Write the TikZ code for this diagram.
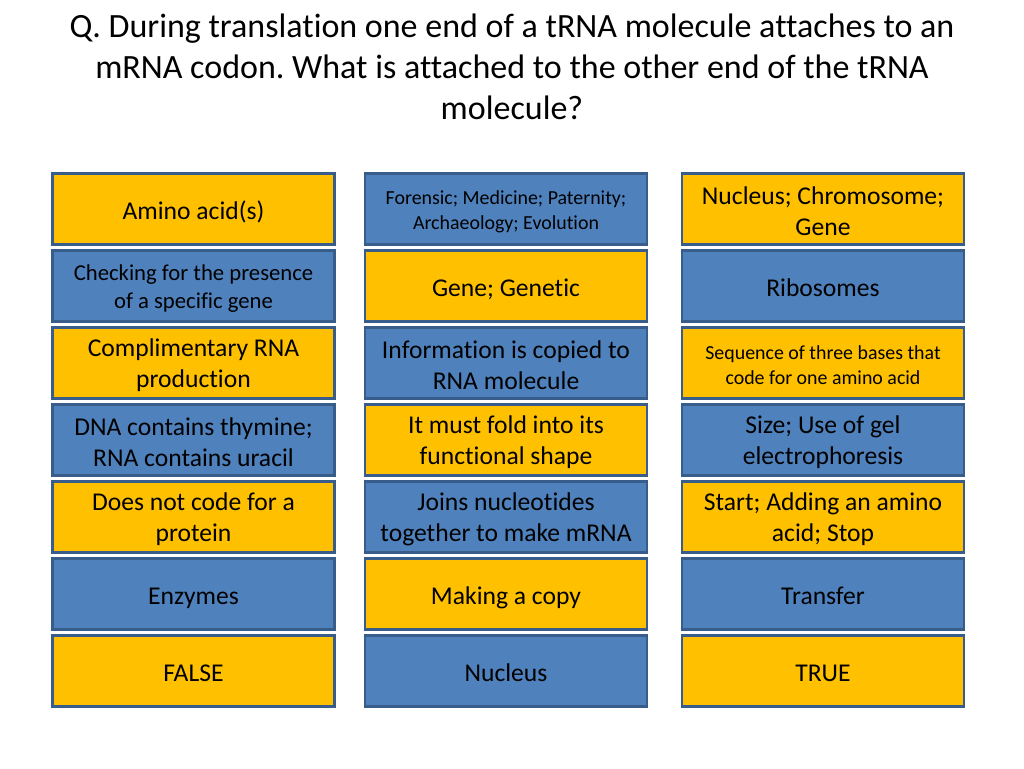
\documentclass[tikz,border=0pt]{standalone}
\usepackage{fontspec}
\setmainfont{Carlito}[Ligatures={NoCommon}]
\frenchspacing
\definecolor{boxY}{HTML}{FFC000}
\definecolor{boxB}{HTML}{4F81BD}
\definecolor{boxEdge}{HTML}{385D8A}
\tikzset{
  cell/.style={draw=boxEdge, line width=2.2pt, minimum width=282pt, minimum height=71pt, inner sep=0pt},
  yel/.style={cell, fill=boxY},
  blu/.style={cell, fill=boxB},
  lbl/.style={align=center, text=black, inner sep=0pt, yshift=-2.5pt, font=\fontsize{25.6}{31}\selectfont},
  one/.style={text height=19pt, text depth=6.4pt, yshift=-1.5pt},
  smallA/.style={font=\fontsize{22.7}{28}\selectfont},
  smallB/.style={font=\fontsize{19.9}{25}\selectfont},
}
\begin{document}
\begin{tikzpicture}[x=1pt,y=-1pt]
\useasboundingbox (0,0) rectangle (1024,768);
\node[align=center, font=\fontsize{34}{41}\selectfont] (title) at (512,67) {Q. During translation one end of a tRNA molecule attaches to an\\mRNA codon. What is attached to the other end of the tRNA\\molecule?};
% boxes
\node[yel] (r1a) at (193.5,209) {};
\node[blu] (r1b) at (506,209) {};
\node[yel] (r1c) at (823,209) {};
\node[blu] (r2a) at (193.5,286) {};
\node[yel] (r2b) at (506,286) {};
\node[blu] (r2c) at (823,286) {};
\node[yel] (r3a) at (193.5,363) {};
\node[blu] (r3b) at (506,363) {};
\node[yel] (r3c) at (823,363) {};
\node[blu] (r4a) at (193.5,440) {};
\node[yel] (r4b) at (506,440) {};
\node[blu] (r4c) at (823,440) {};
\node[yel] (r5a) at (193.5,517) {};
\node[blu] (r5b) at (506,517) {};
\node[yel] (r5c) at (823,517) {};
\node[blu] (r6a) at (193.5,594) {};
\node[yel] (r6b) at (506,594) {};
\node[blu] (r6c) at (823,594) {};
\node[yel] (r7a) at (193.5,671) {};
\node[blu] (r7b) at (506,671) {};
\node[yel] (r7c) at (823,671) {};
% labels
\node[lbl,one] (t1a) at (r1a.center) {Amino acid(s)};
\node[lbl,smallB] (t1b) at (r1b.center) {Forensic; Medicine; Paternity;\\Archaeology; Evolution};
\node[lbl] (t1c) at (r1c.center) {Nucleus; Chromosome;\\Gene};
\node[lbl,smallA] (t2a) at (r2a.center) {Checking for the presence\\of a specific gene};
\node[lbl,one] (t2b) at (r2b.center) {Gene; Genetic};
\node[lbl,one] (t2c) at (r2c.center) {Ribosomes};
\node[lbl] (t3a) at (r3a.center) {Complimentary RNA\\production};
\node[lbl] (t3b) at (r3b.center) {Information is copied to\\RNA molecule};
\node[lbl,smallB] (t3c) at (r3c.center) {Sequence of three bases that\\code for one amino acid};
\node[lbl] (t4a) at (r4a.center) {DNA contains thymine;\\RNA contains uracil};
\node[lbl] (t4b) at (r4b.center) {It must fold into its\\functional shape};
\node[lbl] (t4c) at (r4c.center) {Size; Use of gel\\electrophoresis};
\node[lbl] (t5a) at (r5a.center) {Does not code for a\\protein};
\node[lbl] (t5b) at (r5b.center) {Joins nucleotides\\together to make mRNA};
\node[lbl] (t5c) at (r5c.center) {Start; Adding an amino\\acid; Stop};
\node[lbl,one] (t6a) at (r6a.center) {Enzymes};
\node[lbl,one] (t6b) at (r6b.center) {Making a copy};
\node[lbl,one] (t6c) at (r6c.center) {Transfer};
\node[lbl,one] (t7a) at (r7a.center) {FALSE};
\node[lbl,one] (t7b) at (r7b.center) {Nucleus};
\node[lbl,one] (t7c) at (r7c.center) {TRUE};
\end{tikzpicture}
\end{document}
